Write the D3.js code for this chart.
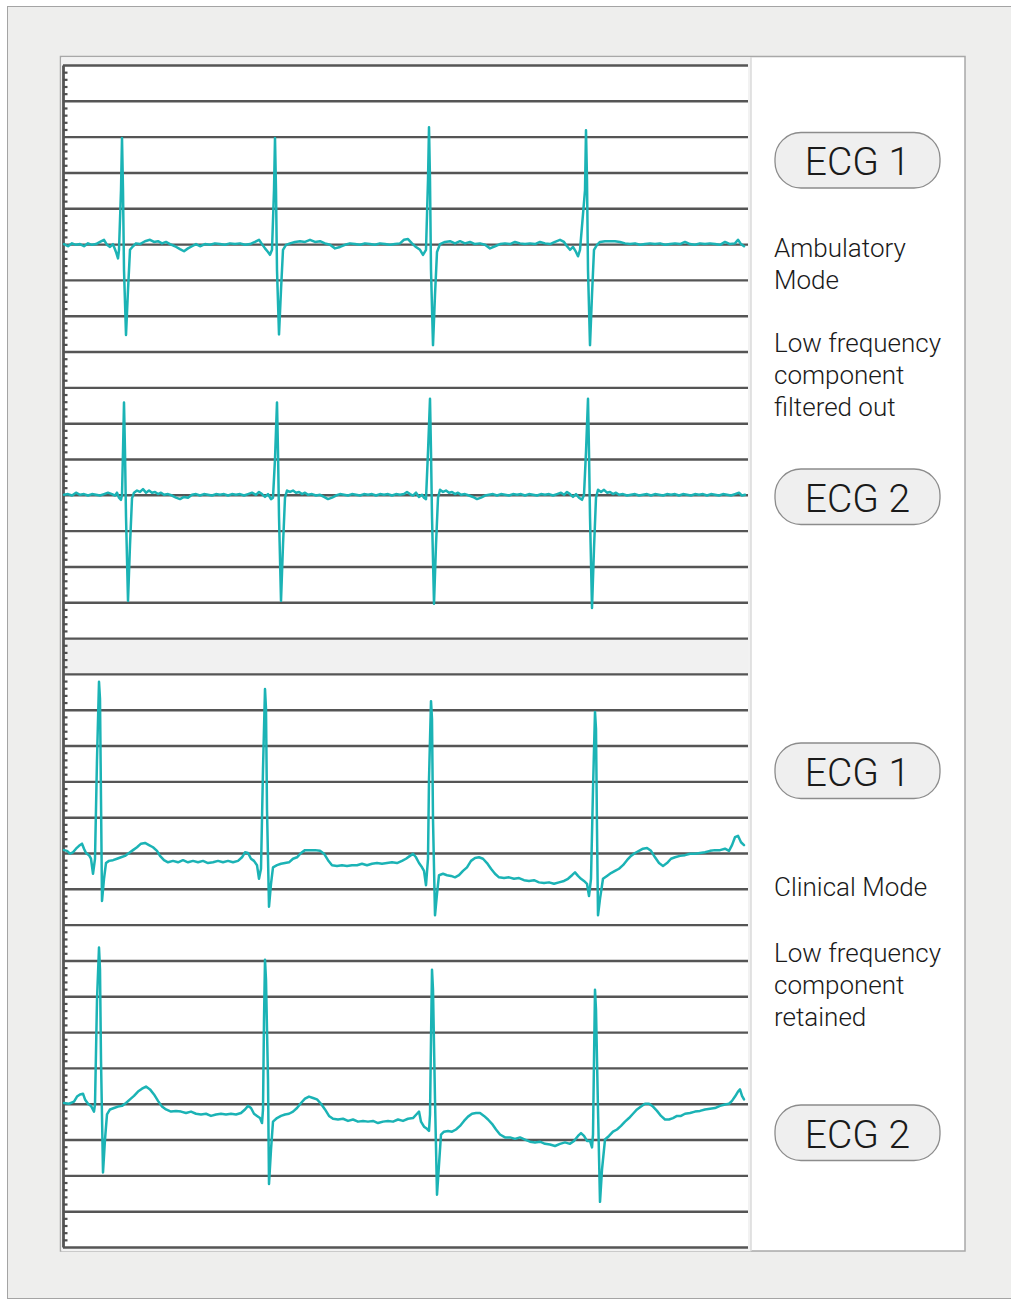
<!DOCTYPE html>
<html>
<head>
<meta charset="utf-8">
<script src="https://cdn.jsdelivr.net/npm/d3@7"></script>
<style>
  html, body { margin: 0; padding: 0; background: #ffffff; }
  svg { display: block; }
  .label { font-family: "Helvetica Neue", Roboto, "Liberation Sans", sans-serif; font-weight: 300; fill: #1a1a1a; }
</style>
</head>
<body>
<svg id="chart" width="1011" height="1300"></svg>
<script>
// ECG strips sampled at ~180 Hz: [sample index, amplitude in mV relative to the trace baseline]
const ambulatoryEcg1 = [
  [1,0],[5,-0.03],[9,0.01],[13,-0.01],[17,0],[21,-0.03],[25,0.01],[29,-0.01],[33,0],[37,0.03],[41,0.06],[44,-0.01],
  [47,-0.04],[50,0],[53,-0.11],[55,-0.2],[56,-0.08],[58,0.75],[59,1.48],[60,0.75],[61,-0.36],[63,-1.27],[65,-0.64],
  [67,-0.08],[70,-0.03],[73,0.01],[77,0],[82,0.04],[87,0.06],[91,0.03],[95,0.04],[99,0.01],[103,0.03],[107,0],
  [112,-0.03],[117,-0.07],[121,-0.1],[125,-0.06],[129,-0.03],[133,0],[137,-0.03],[142,0],[147,-0.01],[152,0.01],
  [157,0],[162,-0.01],[167,0.01],[172,0],[177,0.01],[182,-0.01],[187,0],[192,0.03],[196,0.06],[199,0],[202,-0.06],
  [205,-0.11],[207,-0.15],[209,-0.08],[211,0.75],[212,1.48],[213,0.75],[214,-0.36],[216,-1.26],[218,-0.64],[220,-0.08],
  [223,-0.01],[227,0.01],[232,0.03],[237,0.04],[242,0.03],[247,0.06],[252,0.03],[257,0.04],[262,0.01],[267,-0.01],
  [272,-0.06],[277,-0.04],[282,-0.01],[287,0.01],[292,0],[297,-0.01],[302,0.01],[307,0],[312,-0.01],[317,0.01],
  [322,0],[327,-0.01],[332,0],[337,0.01],[341,0.06],[345,0.07],[349,0.01],[353,-0.04],[357,-0.08],[360,-0.15],
  [363,-0.08],[365,0.89],[366,1.63],[367,0.89],[368,-0.36],[370,-1.41],[372,-0.71],[374,-0.11],[377,0],[382,0.03],
  [387,0.04],[392,0.01],[397,0.04],[402,0.01],[407,0.03],[412,0],[417,0.01],[422,-0.01],[427,-0.06],[432,-0.03],
  [437,0],[442,0.01],[447,0],[452,0.03],[457,0.01],[462,0],[467,0.01],[472,0],[477,0.03],[482,0.01],[487,0],
  [492,0.03],[497,0.06],[501,0.03],[504,-0.03],[507,-0.08],[510,-0.04],[513,-0.11],[515,-0.17],[517,-0.08],
  [522,0.75],[523,1.59],[524,0.89],[525,-0.36],[527,-1.41],[529,-0.71],[531,-0.08],[534,-0.01],[537,0.03],[542,0.04],
  [547,0.04],[552,0.04],[557,0.03],[562,0.01],[567,0],[572,0.01],[577,-0.01],[582,0],[587,0.01],[592,0],[597,0.01],
  [602,-0.01],[607,0],[612,0.01],[617,0],[622,0.03],[627,0],[632,-0.01],[637,0.01],[642,0],[647,0.01],[652,0],
  [657,-0.01],[662,0.03],[667,0],[672,0.01],[675,0.06],[678,0],[681,-0.03]
];

const ambulatoryEcg2 = [
  [1,0],[5,0.01],[9,-0.01],[13,0.03],[17,0],[21,0.01],[25,-0.01],[29,0.01],[33,0],[37,-0.01],[41,0.01],[45,0.03],
  [49,0.01],[52,-0.01],[54,0.03],[56,-0.04],[58,-0.07],[59,0],[60,0.6],[61,1.29],[62,0.6],[63,-0.3],[65,-1.48],
  [67,-0.7],[69,-0.05],[71,0.03],[74,0.06],[77,0.04],[80,0.08],[83,0.03],[86,0.06],[89,0.03],[92,0.04],[95,0.01],
  [98,0.03],[101,0],[105,0.01],[109,-0.01],[113,-0.04],[117,-0.06],[121,-0.03],[125,-0.04],[129,0],[133,0.01],
  [137,-0.01],[141,0.01],[145,0],[149,-0.01],[153,0.01],[157,0],[161,0.01],[165,-0.01],[169,0.01],[173,0],[177,0.01],
  [181,-0.01],[185,0.01],[189,0.03],[193,0],[196,0.04],[199,0.01],[202,-0.03],[205,0.01],[208,-0.06],[210,-0.04],
  [212,0.5],[214,1.29],[215,0.6],[216,-0.3],[218,-1.48],[220,-0.7],[222,-0.04],[224,0.06],[227,0.04],[230,0.06],
  [233,0.03],[236,0.04],[239,0.01],[242,0.03],[245,0],[249,0.01],[253,-0.01],[257,0],[261,-0.03],[265,-0.06],
  [269,-0.04],[273,-0.01],[277,0.01],[281,0],[285,-0.01],[289,0.01],[293,0],[297,-0.01],[301,0.01],[305,0],[309,0.01],
  [313,-0.01],[317,0.01],[321,0],[325,0.01],[329,-0.01],[333,0.01],[337,0],[341,0.01],[344,0.04],[347,0.01],
  [350,-0.01],[353,0.03],[356,-0.03],[359,0],[361,-0.04],[363,-0.06],[365,0.6],[367,1.34],[368,0.6],[369,-0.3],
  [371,-1.52],[373,-0.7],[375,-0.04],[377,0.07],[380,0.04],[383,0.06],[386,0.03],[389,0.04],[392,0.01],[395,0.03],
  [398,0],[402,0.01],[406,-0.01],[410,-0.03],[414,-0.06],[418,-0.04],[422,-0.01],[426,0],[430,0.01],[434,-0.01],
  [438,0.01],[442,0],[446,-0.01],[450,0.01],[454,0],[458,0.01],[462,-0.01],[466,0.01],[470,0],[474,-0.01],[478,0.01],
  [482,0],[486,0.01],[490,-0.01],[494,0.01],[498,0.03],[501,0],[504,0.04],[507,0.01],[510,-0.03],[513,0.01],
  [516,-0.04],[519,-0.07],[521,0],[523,0.6],[525,1.34],[526,0.6],[527,-0.3],[529,-1.58],[531,-0.75],[533,-0.04],
  [535,0.07],[538,0.04],[541,0.07],[544,0.03],[547,0.04],[550,0.01],[553,0.03],[556,0],[560,0.01],[564,-0.01],
  [568,0],[572,0.01],[576,-0.01],[580,0],[584,0.01],[588,-0.01],[592,0.01],[596,0],[600,-0.01],[604,0.01],[608,0],
  [612,0.01],[616,-0.01],[620,0.01],[624,0],[628,-0.01],[632,0.01],[636,0],[640,0.01],[644,-0.01],[648,0.01],
  [652,0],[656,-0.01],[660,0.01],[664,0],[668,-0.01],[672,0.01],[676,0.03],[679,-0.01],[682,0]
];

const clinicalEcg1 = [
  [1,0.04],[4,0.03],[7,-0.01],[10,0.01],[13,0.06],[16,0.1],[19,0.13],[21,0.06],[23,0],[26,-0.03],[28,-0.08],
  [30,-0.29],[32,-0.08],[34,1.31],[36,2.39],[37,2.15],[38,0.75],[39,-0.67],[41,-0.36],[43,-0.14],[46,-0.11],
  [50,-0.1],[54,-0.08],[58,-0.06],[62,-0.04],[66,0],[70,0.04],[74,0.08],[78,0.13],[82,0.14],[86,0.11],[90,0.08],
  [94,0.03],[97,-0.04],[101,-0.1],[105,-0.13],[110,-0.11],[115,-0.13],[120,-0.1],[125,-0.13],[130,-0.11],
  [135,-0.13],[140,-0.11],[145,-0.14],[150,-0.13],[155,-0.11],[160,-0.13],[165,-0.11],[170,-0.13],[175,-0.11],
  [179,-0.06],[182,0.01],[185,0],[188,-0.08],[191,-0.11],[194,-0.17],[196,-0.36],[198,-0.22],[200,1.17],[202,2.29],
  [203,2.01],[204,0.61],[206,-0.75],[208,-0.43],[210,-0.2],[214,-0.17],[218,-0.15],[222,-0.14],[226,-0.13],
  [230,-0.08],[234,-0.06],[238,0],[242,0.04],[247,0.04],[252,0.04],[257,0.03],[261,-0.01],[265,-0.1],[269,-0.17],
  [274,-0.18],[279,-0.17],[284,-0.18],[289,-0.17],[294,-0.17],[299,-0.15],[304,-0.17],[309,-0.15],[314,-0.14],
  [319,-0.15],[324,-0.14],[329,-0.13],[334,-0.14],[339,-0.11],[343,-0.08],[347,-0.04],[350,-0.01],[353,-0.06],
  [356,-0.14],[359,-0.2],[361,-0.25],[363,-0.45],[365,-0.08],[366,1.03],[368,2.12],[369,1.87],[370,0.47],
  [372,-0.87],[374,-0.57],[376,-0.31],[380,-0.29],[384,-0.31],[388,-0.32],[392,-0.34],[396,-0.31],[400,-0.25],
  [404,-0.2],[408,-0.11],[412,-0.07],[416,-0.06],[420,-0.08],[424,-0.14],[428,-0.22],[432,-0.29],[436,-0.34],
  [441,-0.35],[446,-0.34],[451,-0.36],[456,-0.35],[461,-0.38],[466,-0.39],[471,-0.38],[476,-0.41],[481,-0.42],
  [486,-0.41],[491,-0.43],[496,-0.41],[501,-0.39],[505,-0.36],[509,-0.31],[512,-0.27],[515,-0.32],[518,-0.36],
  [521,-0.39],[524,-0.43],[526,-0.6],[528,-0.36],[530,0.89],[532,1.97],[533,1.73],[534,0.34],[535,-0.87],
  [537,-0.64],[540,-0.36],[544,-0.32],[548,-0.28],[552,-0.25],[556,-0.22],[560,-0.17],[564,-0.1],[568,-0.04],
  [572,0],[576,0.03],[580,0.06],[584,0.07],[588,0.03],[592,-0.06],[596,-0.14],[600,-0.18],[604,-0.14],[608,-0.08],
  [612,-0.06],[617,-0.04],[622,-0.03],[627,-0.01],[632,-0.01],[637,0],[642,0.01],[647,0.03],[652,0.04],[657,0.04],
  [662,0.06],[666,0.03],[669,0.11],[672,0.22],[675,0.24],[678,0.15],[681,0.11]
];

const clinicalEcg2 = [
  [1,0.01],[6,0],[11,0.03],[14,0.1],[17,0.13],[20,0.14],[22,0.06],[25,0],[28,-0.03],[31,-0.11],[32,-0.01],
  [34,1.45],[36,2.18],[37,1.87],[38,0.61],[40,-0.96],[42,-0.5],[44,-0.15],[47,-0.08],[51,-0.06],[55,-0.04],
  [59,-0.03],[63,0.01],[67,0.06],[71,0.11],[75,0.17],[79,0.21],[83,0.24],[87,0.2],[91,0.13],[95,0.04],[99,-0.04],
  [103,-0.08],[108,-0.11],[113,-0.1],[118,-0.11],[123,-0.13],[128,-0.11],[133,-0.14],[138,-0.15],[143,-0.14],
  [148,-0.17],[153,-0.15],[158,-0.14],[163,-0.15],[168,-0.14],[173,-0.15],[178,-0.13],[182,-0.08],[185,-0.03],
  [188,-0.06],[191,-0.14],[194,-0.17],[197,-0.2],[199,-0.27],[200,-0.08],[201,1.17],[202,2.01],[203,1.73],
  [205,0.34],[206,-1.12],[208,-0.64],[210,-0.25],[214,-0.2],[218,-0.17],[222,-0.15],[226,-0.14],[230,-0.11],
  [234,-0.06],[238,0.01],[242,0.07],[246,0.1],[250,0.08],[254,0.06],[258,0],[262,-0.08],[266,-0.17],[270,-0.21],
  [275,-0.22],[280,-0.21],[285,-0.24],[290,-0.22],[295,-0.25],[300,-0.24],[305,-0.25],[310,-0.24],[315,-0.27],
  [320,-0.25],[325,-0.24],[330,-0.25],[335,-0.22],[340,-0.24],[345,-0.21],[350,-0.2],[354,-0.14],[356,-0.11],
  [358,-0.25],[361,-0.32],[364,-0.35],[366,-0.38],[367,-0.15],[368,0.89],[369,1.87],[370,1.59],[372,0.06],
  [374,-1.27],[376,-0.85],[378,-0.43],[381,-0.39],[385,-0.38],[389,-0.39],[393,-0.36],[397,-0.31],[401,-0.24],
  [405,-0.18],[409,-0.14],[413,-0.13],[417,-0.13],[421,-0.17],[425,-0.22],[429,-0.28],[433,-0.36],[437,-0.43],
  [442,-0.47],[447,-0.47],[452,-0.49],[457,-0.47],[462,-0.5],[467,-0.53],[472,-0.54],[477,-0.53],[482,-0.56],
  [487,-0.57],[492,-0.59],[497,-0.56],[502,-0.54],[507,-0.56],[511,-0.52],[515,-0.45],[518,-0.41],[521,-0.45],
  [524,-0.52],[527,-0.52],[529,-0.61],[530,-0.43],[531,0.61],[532,1.59],[533,1.31],[535,-0.08],[537,-1.37],
  [539,-0.92],[542,-0.5],[546,-0.45],[550,-0.39],[554,-0.36],[558,-0.31],[562,-0.25],[566,-0.2],[570,-0.14],
  [574,-0.08],[578,-0.04],[582,0],[586,0],[590,-0.04],[594,-0.1],[598,-0.17],[602,-0.22],[606,-0.22],[610,-0.2],
  [614,-0.17],[618,-0.17],[622,-0.14],[627,-0.13],[632,-0.11],[637,-0.1],[642,-0.08],[647,-0.07],[652,-0.06],
  [657,-0.03],[662,-0.01],[666,0],[669,0.04],[672,0.1],[675,0.17],[677,0.2],[679,0.11],[681,0.06]
];

// Stacking: baseline of each trace on the strip (mV from the bottom edge of the strip)
const traceSeries = [ambulatoryEcg1, ambulatoryEcg2, clinicalEcg1, clinicalEcg2];
const traceBaselinesMv = [14.0, 10.5, 5.5, 2.0];
const traceNames = ["ECG 1", "ECG 2", "ECG 1", "ECG 2"];
const modeTitles = [["Ambulatory", "Mode"], ["Clinical Mode"]];
const modeNotes = [["Low frequency", "component", "filtered out"], ["Low frequency", "component", "retained"]];
// band separating the two recording modes (mV on the strip)
const separatorBandMv = [8.0, 8.5];
const stripSamples = 685;
const stripHeightMv = 16.5;

const svg = d3.select("#chart");

// page and card
svg.append("rect").attr("x", 7.5).attr("y", 6.5).attr("width", 1010).attr("height", 1292)
  .attr("fill", "#eeeeed").attr("stroke", "#a4a4a4");
svg.append("rect").attr("x", 60.5).attr("y", 56.5).attr("width", 904.5).attr("height", 1194.5)
  .attr("fill", "#ffffff").attr("stroke", "#a8a8a8").attr("stroke-width", 1.5);
// strip frame
svg.append("rect").attr("x", 61.3).attr("y", 57.3).attr("width", 689.5).attr("height", 1194)
  .attr("fill", "#f2f2f2");
svg.append("line").attr("x1", 751).attr("x2", 751).attr("y1", 57).attr("y2", 1251)
  .attr("stroke", "#dadada").attr("stroke-width", 1.5);

const plotLeft = 63, plotRight = 748, plotTop = 65, plotBottom = 1247;
const x = d3.scaleLinear().domain([0, stripSamples]).range([plotLeft, plotRight]);
const y = d3.scaleLinear().domain([0, stripHeightMv]).range([plotBottom, plotTop]);

svg.append("rect").attr("x", plotLeft).attr("y", plotTop)
  .attr("width", plotRight - plotLeft).attr("height", plotBottom - plotTop).attr("fill", "#ffffff");

// mode separator band
svg.append("rect").attr("x", plotLeft).attr("y", y(separatorBandMv[1]))
  .attr("width", plotRight - plotLeft).attr("height", y(separatorBandMv[0]) - y(separatorBandMv[1]))
  .attr("fill", "#f1f1f1");

// major grid (0.5 mV)
const majorTicks = d3.range(0, stripHeightMv + 0.001, 0.5);
const grid = svg.append("g").attr("transform", `translate(${plotLeft},0)`)
  .call(d3.axisRight(y).tickValues(majorTicks).tickSize(plotRight - plotLeft).tickFormat(""));
grid.select(".domain").remove();
grid.selectAll(".tick line").attr("stroke", "#555555").attr("stroke-width", 2.4);

// minor ticks (0.1 mV) along the left edge
const minorTicks = d3.range(0, Math.round(stripHeightMv * 10) + 1)
  .filter(i => i % 5 !== 0).map(i => i / 10);
const minor = svg.append("g").attr("transform", `translate(${plotLeft},0)`)
  .call(d3.axisRight(y).tickValues(minorTicks).tickSize(4.5).tickSizeOuter(0).tickFormat(""));
minor.select(".domain").attr("stroke", "#555555").attr("stroke-width", 2.8);
minor.selectAll(".tick line").attr("stroke", "#4f4f4f").attr("stroke-width", 2.2);

// ECG traces
traceSeries.forEach((series, i) => {
  const base = traceBaselinesMv[i];
  const line = d3.line().x(d => x(d[0])).y(d => y(base + d[1]));
  svg.append("path").datum(series)
    .attr("d", line)
    .attr("fill", "none")
    .attr("stroke", "#1bb3b5")
    .attr("stroke-width", 2.5)
    .attr("stroke-linejoin", "round")
    .attr("stroke-linecap", "round");
});

// side legend
const textX = 774;
function pill(label, top) {
  svg.append("rect").attr("x", 775).attr("y", top).attr("width", 165).attr("height", 55.5)
    .attr("rx", 26).attr("ry", 26).attr("fill", "#efefef").attr("stroke", "#8c8c8c").attr("stroke-width", 1.3);
  svg.append("text").attr("class", "label").attr("x", 857.5).attr("y", top + 42.5)
    .attr("text-anchor", "middle").attr("font-size", 39).text(label);
}
function block(lines, firstBaseline) {
  lines.forEach((t, k) => {
    svg.append("text").attr("class", "label").attr("x", textX).attr("y", firstBaseline + k * 32.2)
      .attr("font-size", 26).text(t);
  });
}

pill(traceNames[0], 132.5);
block(modeTitles[0], 257);
block(modeNotes[0], 352);
pill(traceNames[1], 469);
pill(traceNames[2], 743);
block(modeTitles[1], 896);
block(modeNotes[1], 962);
pill(traceNames[3], 1105);
</script>
</body>
</html>
